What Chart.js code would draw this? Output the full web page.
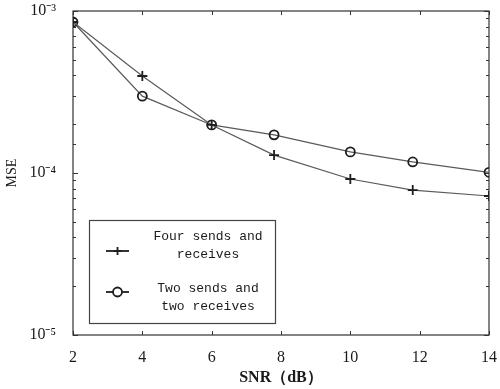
<!DOCTYPE html>
<html><head><meta charset="utf-8">
<script src="https://cdn.jsdelivr.net/npm/chart.js@4/dist/chart.umd.min.js"></script>
<style>html,body{margin:0;padding:0;background:#fff}#wrap{width:500px;height:389px;position:relative}</style>
</head><body><div id="wrap"><canvas id="c" width="500" height="389"></canvas></div>
<script>
const snr = [2, 4, 6, 7.8, 10, 11.8, 14];
const fourSendsReceives = [8.55e-4, 3.97e-4, 1.98e-4, 1.29e-4, 9.18e-5, 7.85e-5, 7.21e-5];
const twoSendsTwoReceives = [8.55e-4, 2.98e-4, 1.98e-4, 1.72e-4, 1.35e-4, 1.17e-4, 1.01e-4];
const xTicks = [2, 4, 6, 8, 10, 12, 14];
const yTickValues = [1e-5, 1e-4, 1e-3];
const yTickLabels = ['10⁻⁵', '10⁻⁴', '10⁻³'];
const legendLabels = [['Four sends and', 'receives'], ['Two sends and', 'two receives']];
const xTitle = 'SNR（dB）';
const yTitle = 'MSE';

const LINE = '#5a5a5a', MARK = '#1e1e1e', TXT = '#1a1a1a';

const framePlugin = {
  id: 'frame',
  beforeDatasetsDraw(chart) {
    const {ctx, chartArea: a, scales: {x, y}} = chart;
    ctx.save();
    ctx.strokeStyle = '#333';
    ctx.lineWidth = 1.2;
    ctx.strokeRect(a.left, a.top, a.right - a.left, a.bottom - a.top);
    ctx.lineWidth = 1;
    ctx.beginPath();
    xTicks.forEach(v => {
      const px = Math.round(x.getPixelForValue(v)) + 0.5;
      ctx.moveTo(px, a.bottom); ctx.lineTo(px, a.bottom - 4);
      ctx.moveTo(px, a.top); ctx.lineTo(px, a.top + 4);
    });
    y.ticks.forEach(t => {
      const py = Math.round(y.getPixelForValue(t.value)) + 0.5;
      const lg = Math.log10(t.value);
      const major = Math.abs(lg - Math.round(lg)) < 1e-6;
      const len = major ? 5 : 3;
      ctx.moveTo(a.left, py); ctx.lineTo(a.left + len, py);
      ctx.moveTo(a.right, py); ctx.lineTo(a.right - len, py);
    });
    ctx.stroke();
    ctx.restore();
  },
  afterDraw(chart) {
    const {ctx, chartArea: a} = chart;
    const bx = a.left + 16, by = a.bottom - 115, bw = 186, bh = 103;
    ctx.save();
    ctx.fillStyle = '#fff';
    ctx.fillRect(bx, by, bw, bh);
    ctx.strokeStyle = '#444';
    ctx.lineWidth = 1.2;
    ctx.strokeRect(bx + 0.5, by + 0.5, bw, bh);
    const styles = ['cross', 'circle'];
    const rows = [{ly: 31, t: [17, 35]}, {ly: 72, t: [69, 87]}];
    ctx.font = '13px "Liberation Mono", "DejaVu Sans Mono", monospace';
    ctx.textAlign = 'center';
    ctx.textBaseline = 'middle';
    rows.forEach((r, i) => {
      const ly = by + r.ly;
      ctx.strokeStyle = MARK; ctx.lineWidth = 1.8;
      ctx.beginPath(); ctx.moveTo(bx + 17, ly); ctx.lineTo(bx + 40, ly); ctx.stroke();
      ctx.fillStyle = '#fff';
      Chart.helpers.drawPoint(ctx, {pointStyle: styles[i], radius: i ? 4.5 : 4, rotation: 0, borderWidth: 1.8}, bx + 28.5, ly);
      ctx.fillStyle = TXT;
      legendLabels[i].forEach((s, k) => ctx.fillText(s, bx + 119, by + r.t[k]));
    });
    ctx.restore();
  }
};

new Chart(document.getElementById('c'), {
  type: 'line',
  data: {
    datasets: [
      {label: legendLabels[0].join(' '), data: snr.map((v, i) => ({x: v, y: fourSendsReceives[i]})),
       borderColor: LINE, borderWidth: 1.2, pointStyle: 'cross', pointRadius: 5,
       pointBorderColor: MARK, pointBorderWidth: 1.8, pointBackgroundColor: 'transparent', tension: 0},
      {label: legendLabels[1].join(' '), data: snr.map((v, i) => ({x: v, y: twoSendsTwoReceives[i]})),
       borderColor: LINE, borderWidth: 1.2, pointStyle: 'circle', pointRadius: 4.5,
       pointBorderColor: MARK, pointBorderWidth: 1.8, pointBackgroundColor: 'transparent', tension: 0}
    ]
  },
  options: {
    responsive: false, animation: false, devicePixelRatio: 1,
    layout: {padding: {top: 11, right: 11, left: 0, bottom: 0}},
    plugins: {legend: {display: false}, tooltip: {enabled: false}},
    scales: {
      x: {
        type: 'linear', min: 2, max: 14,
        afterFit(s) { s.height = 54; s.paddingLeft = 0; s.paddingRight = 0; },
        afterBuildTicks(s) { s.ticks = xTicks.map(v => ({value: v})); },
        grid: {display: false}, border: {display: false},
        ticks: {color: TXT, padding: 5, maxRotation: 0, font: {family: '"Liberation Serif", serif', size: 16}},
        title: {display: true, text: xTitle, color: TXT, padding: {top: 0, bottom: 2},
                font: {family: '"Liberation Serif", serif', size: 16, weight: 'bold'}}
      },
      y: {
        type: 'logarithmic', min: 1e-5, max: 1e-3,
        afterFit(s) { s.width = 73; s.paddingTop = 0; s.paddingBottom = 0; },
        grid: {display: false}, border: {display: false},
        ticks: {color: TXT, padding: 9, autoSkip: false,
          font: {family: '"Liberation Serif", serif', size: 16},
          callback(v) {
            const i = yTickValues.findIndex(t => Math.abs(Math.log10(t) - Math.log10(v)) < 1e-6);
            return i >= 0 ? yTickLabels[i] : '';
          }},
        title: {display: true, text: yTitle, color: TXT, padding: {top: 4, bottom: 0},
                font: {family: '"Liberation Serif", serif', size: 14}}
      }
    }
  },
  plugins: [framePlugin]
});
</script></body></html>
